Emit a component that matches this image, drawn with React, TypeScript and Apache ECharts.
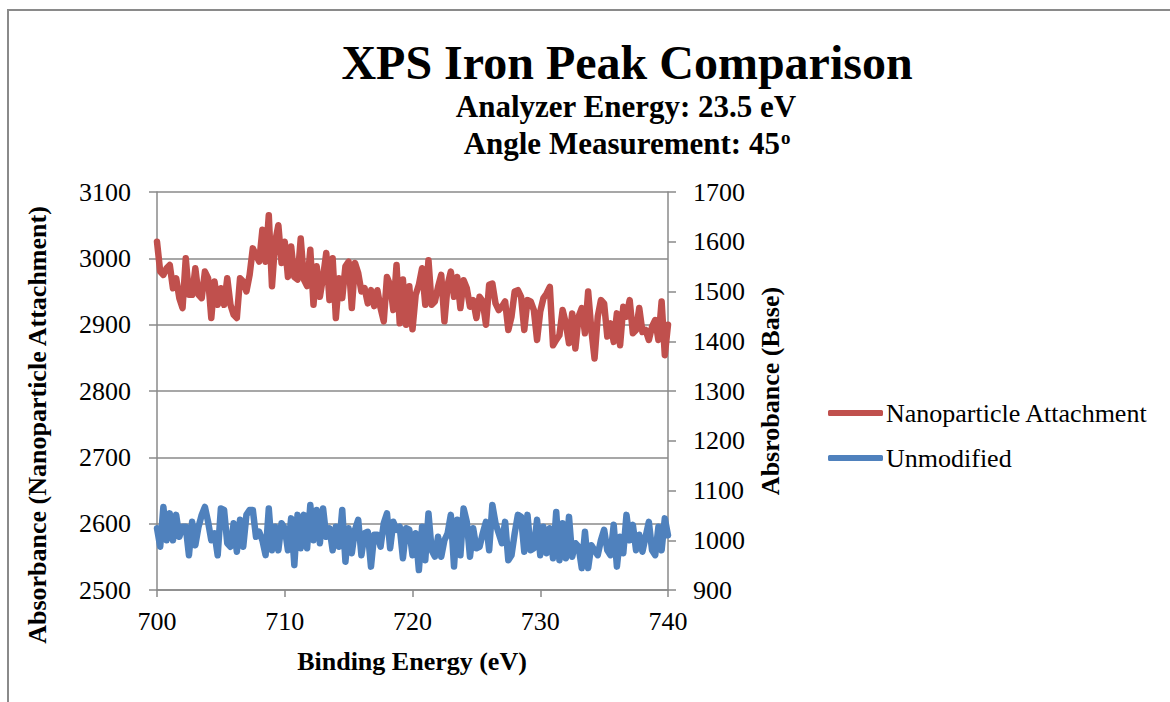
import React, { useEffect, useRef } from "react";
import * as echarts from "echarts";

// Binding energy sampling (eV)
const ENERGY_START = 700;
const ENERGY_STEP = 0.25;

// Nanoparticle Attachment (left axis)
const nanoparticle = [
  3025, 2980, 2975, 2985, 2990, 2955, 2970, 2940, 2925, 3000,
  2945, 2945, 2985, 2945, 2940, 2980, 2970, 2910, 2965, 2930,
  2955, 2930, 2970, 2930, 2915, 2910, 2970, 2965, 2950, 2975,
  3015, 3005, 2995, 3043, 2995, 3065, 2958, 3025, 3050, 2993,
  3025, 2972, 3018, 2972, 2968, 3030, 2968, 2958, 3013, 2930,
  2988, 2942, 2972, 3008, 2937, 3000, 2910, 2970, 2940, 2988,
  2995, 2925, 2993, 2978, 2950, 2955, 2932, 2952, 2928, 2952,
  2925, 2905, 2972, 2960, 2922, 2990, 2902, 2968, 2900, 2958,
  2893, 2945, 2960, 2985, 2930, 2997, 2930, 2935, 2957, 2975,
  2905, 2960, 2980, 2942, 2972, 2925, 2967, 2955, 2927, 2937,
  2910, 2942, 2935, 2900, 2960, 2962, 2932, 2922, 2927, 2935,
  2892, 2912, 2950, 2952, 2942, 2892, 2937, 2935, 2922, 2877,
  2920, 2940, 2947, 2957, 2869, 2877, 2884, 2922, 2902, 2872,
  2917, 2864, 2912, 2925, 2887, 2950, 2892, 2849, 2912, 2937,
  2932, 2882, 2902, 2874, 2917, 2869, 2927, 2912, 2937, 2887,
  2892, 2925, 2889, 2892, 2877, 2897, 2907, 2877, 2935, 2854,
  2900,
];

// Unmodified (right axis)
const unmodified = [
  1024, 987, 1067, 1000, 1054, 1000, 1051, 1007, 1027, 1027,
  970, 1037, 990, 1027, 1051, 1067, 1037, 1000, 1014, 970,
  1064, 1061, 994, 987, 1034, 977, 1041, 987, 1051, 1061,
  1061, 1007, 1017, 1000, 970, 1064, 980, 1027, 980, 1034,
  1024, 980, 1044, 950, 1051, 984, 1051, 984, 1071, 1000,
  1061, 994, 1064, 1007, 1024, 980, 1027, 987, 1061, 957,
  1024, 974, 1021, 1041, 970, 1014, 1017, 947, 1011, 1011,
  987, 1034, 1054, 984, 1037, 1021, 1027, 964, 1024, 1021,
  970, 1014, 940, 1027, 960, 1054, 980, 967, 1007, 967,
  1000, 1014, 1051, 947, 1041, 970, 1064, 1037, 967, 1024,
  984, 987, 1014, 1037, 980, 1071, 1034, 1014, 994, 1037,
  960, 970, 1014, 1051, 1047, 977, 1051, 980, 984, 1041,
  970, 1027, 974, 1024, 964, 1057, 960, 1034, 964, 1047,
  967, 994, 987, 944, 1017, 944, 990, 980, 970, 1000,
  1021, 980, 970, 1031, 947, 1007, 974, 1051, 1000, 1031,
  980, 1011, 977, 1007, 1037, 980, 970, 1027, 980, 1044,
  1010,
];

const X_MIN = 700, X_MAX = 740, X_INTERVAL = 10;
const L_MIN = 2500, L_MAX = 3100, L_INTERVAL = 100;
const R_MIN = 900, R_MAX = 1700, R_INTERVAL = 100;

const TITLE = "XPS Iron Peak Comparison";
const SUB1 = "Analyzer Energy: 23.5 eV";
const SUB2 = "Angle Measurement: 45";
const X_NAME = "Binding Energy (eV)";
const L_NAME = "Absorbance (Nanoparticle Attachment)";
const R_NAME = "Absrobance (Base)";
const S1 = "Nanoparticle Attachment";
const S2 = "Unmodified";

const FONT = '"Liberation Serif", "Times New Roman", serif';
const GRAY = "#8a8a8a";
const RED = "#C0504D";
const BLUE = "#4F81BD";

export default function App() {
  const ref = useRef<HTMLDivElement>(null);
  useEffect(() => {
    document.body.style.margin = "0";
    if (!ref.current) return;
    const chart = echarts.init(ref.current, undefined, { renderer: "svg" });
    const axisLine = { show: true, lineStyle: { color: GRAY, width: 1.5 } };
    const axisLabel = {
      color: "#000",
      fontSize: 26,
      fontFamily: FONT,
      formatter: (v: number) => String(v),
    };
    const textBase = {
      fontFamily: FONT,
      fontWeight: "bold",
      fill: "#000",
      align: "center",
      verticalAlign: "middle",
      textAlign: "center",
      textVerticalAlign: "middle",
    };
    chart.setOption({
      animation: false,
      backgroundColor: "#ffffff",
      textStyle: { fontFamily: FONT },
      grid: { left: 157, right: 502, top: 192, bottom: 112 },
      xAxis: {
        type: "value",
        min: X_MIN,
        max: X_MAX,
        interval: X_INTERVAL,
        axisLine,
        axisTick: { show: true, length: 7, lineStyle: { color: GRAY, width: 1.5 } },
        axisLabel: { ...axisLabel, margin: 18 },
        splitLine: { show: false },
      },
      yAxis: [
        {
          type: "value",
          position: "left",
          min: L_MIN,
          max: L_MAX,
          interval: L_INTERVAL,
          axisLine,
          axisTick: { show: true, length: 8, lineStyle: { color: GRAY, width: 1.5 } },
          axisLabel: { ...axisLabel, margin: 26 },
          splitLine: { show: true, lineStyle: { color: GRAY, width: 1.5 } },
        },
        {
          type: "value",
          position: "right",
          min: R_MIN,
          max: R_MAX,
          interval: R_INTERVAL,
          axisLine,
          axisTick: { show: true, length: 8, lineStyle: { color: GRAY, width: 1.5 } },
          axisLabel: { ...axisLabel, margin: 25 },
          splitLine: { show: false },
        },
      ],
      legend: {
        orient: "vertical",
        left: 823,
        top: 395,
        icon: "roundRect",
        itemWidth: 55,
        itemHeight: 6,
        itemGap: 19,
        data: [S1, S2],
        textStyle: { color: "#000", fontSize: 26, fontFamily: FONT, padding: [0, 0, 0, -2] },
      },
      series: [
        {
          name: S1,
          type: "line",
          yAxisIndex: 0,
          showSymbol: false,
          symbol: "none",
          data: nanoparticle.map((v, i) => [ENERGY_START + i * ENERGY_STEP, v]),
          lineStyle: { color: RED, width: 6.5, join: "round", cap: "round" },
          itemStyle: { color: RED },
        },
        {
          name: S2,
          type: "line",
          yAxisIndex: 1,
          showSymbol: false,
          symbol: "none",
          data: unmodified.map((v, i) => [ENERGY_START + i * ENERGY_STEP, v]),
          lineStyle: { color: BLUE, width: 6.5, join: "round", cap: "round" },
          itemStyle: { color: BLUE },
        },
      ],
      graphic: [
        {
          type: "rect",
          silent: true,
          z: -10,
          shape: { x: 8, y: 10, width: 1400, height: 900 },
          style: { fill: "none", stroke: GRAY, lineWidth: 2 },
        },
        {
          type: "text",
          x: 627,
          y: 62,
          style: { ...textBase, text: TITLE, fontSize: 48 },
        },
        {
          type: "text",
          x: 626,
          y: 106,
          style: { ...textBase, text: SUB1, fontSize: 31 },
        },
        {
          type: "text",
          x: 627,
          y: 143,
          style: {
            ...textBase,
            text: "{a|" + SUB2 + "}{s|o}",
            fontSize: 31,
            rich: {
              a: { fontFamily: FONT, fontSize: 31, fontWeight: "bold", fill: "#000" },
              s: {
                fontFamily: FONT,
                fontSize: 19,
                fontWeight: "bold",
                fill: "#000",
                verticalAlign: "top",
                padding: [0, 0, 10, 1],
              },
            },
          },
        },
        {
          type: "text",
          x: 412,
          y: 661,
          style: { ...textBase, text: X_NAME, fontSize: 26 },
        },
        {
          type: "text",
          x: 37,
          y: 425,
          rotation: Math.PI / 2,
          style: { ...textBase, text: L_NAME, fontSize: 26 },
        },
        {
          type: "text",
          x: 770,
          y: 391,
          rotation: Math.PI / 2,
          style: { ...textBase, text: R_NAME, fontSize: 26 },
        },
      ],
    });
    return () => chart.dispose();
  }, []);
  return <div ref={ref} style={{ width: 1170, height: 702 }} />;
}
